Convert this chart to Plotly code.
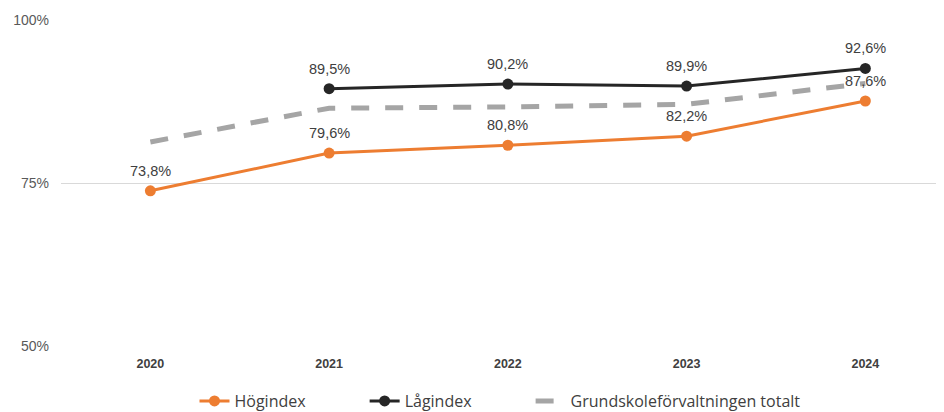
import plotly.graph_objects as go

years = ["2020", "2021", "2022", "2023", "2024"]
hog = [73.8, 79.6, 80.8, 82.2, 87.6]
lag = [None, 89.5, 90.2, 89.9, 92.6]
total = [81.3, 86.5, 86.7, 87.1, 90.3]
y_ticks = [50, 75, 100]
y_labels = ["50%", "75%", "100%"]

def fmt(v):
    return f"{v:.1f}%".replace(".", ",")

pad = "\u00a0" * 13  # extra spacing between legend entries
lbl_font = dict(size=14.5, color="#404040", family="Liberation Sans, Arial")

fig = go.Figure()
fig.add_trace(go.Scatter(
    x=years, y=hog, name="Högindex" + pad, mode="lines+markers",
    line=dict(color="#ED7D31", width=3), marker=dict(size=11, color="#ED7D31")))
fig.add_trace(go.Scatter(
    x=years, y=lag, name="Lågindex" + pad, mode="lines+markers",
    line=dict(color="#262626", width=3), marker=dict(size=11, color="#262626")))
fig.add_trace(go.Scatter(
    x=years, y=total, name="Grundskoleförvaltningen totalt", mode="lines",
    line=dict(color="#A5A5A5", width=5, dash="18px,16px")))

for series in (hog, lag):
    for i, v in enumerate(series):
        if v is None:
            continue
        fig.add_annotation(x=i, y=v, xref="x", yref="y", text=fmt(v), showarrow=False,
                           yanchor="middle", yshift=20, font=lbl_font)

# page body has an 8px margin; figure coordinates are shifted accordingly
fig.update_layout(
    width=944, height=412,
    margin=dict(l=53, r=8, t=12, b=74, autoexpand=False),
    paper_bgcolor="white", plot_bgcolor="white",
    font=dict(family="Liberation Sans, Arial", color="#595959"),
    showlegend=True,
    legend=dict(orientation="h", xref="container", yref="container",
                x=492 / 944, xanchor="center", y=19 / 412, yanchor="middle",
                font=dict(size=16, color="#404040", family="Open Sans")),
    xaxis=dict(type="category", range=[-0.5, 4.44], showgrid=False, zeroline=False,
               showline=False, ticks="", automargin=False, ticklabelstandoff=8,
               tickfont=dict(size=12.5, color="#404040", weight="bold")),
    yaxis=dict(range=[49.95, 100.05], tickvals=y_ticks, ticktext=y_labels, showgrid=True,
               gridcolor="#D9D9D9", gridwidth=1, zeroline=False, showline=False,
               automargin=False,
               tickfont=dict(size=14, color="#595959"), ticklabelstandoff=11),
)
fig.write_html("out.html")
